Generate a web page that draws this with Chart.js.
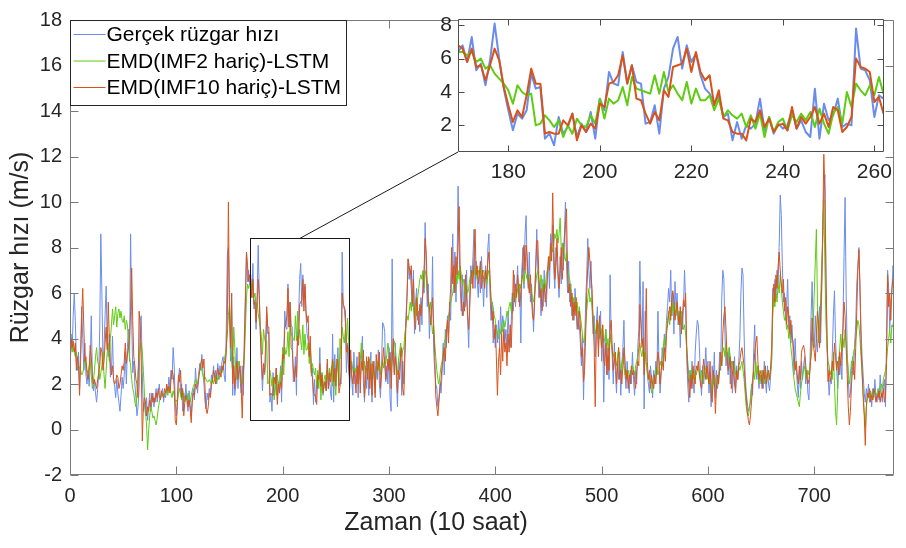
<!DOCTYPE html>
<html>
<head>
<meta charset="utf-8">
<script src="https://cdn.jsdelivr.net/npm/chart.js@4.4.0/dist/chart.umd.min.js"></script>
<style>
  html, body { margin: 0; padding: 0; background: #fff; }
  #wrap { position: relative; width: 906px; height: 548px; }
  #mainChart { position: absolute; left: 0; top: 0; }
  #insetChart { position: absolute; left: 420px; top: 0; }
</style>
</head>
<body>
<div id="wrap">
  <canvas id="mainChart" width="906" height="548"></canvas>
  <canvas id="insetChart" width="480" height="200"></canvas>
</div>
<script>
//////////////////////* Data *////////////////////////////
let seriesNames = ["Gerçek rüzgar hızı", "EMD(IMF2 hariç)-LSTM", "EMD(IMF10 hariç)-LSTM"];

// one value per time step (10 h), x = 0 .. 775
let realSpeed = [
  3.3, 4.2, 3.5, 5.0, 6.0, 4.8, 3.0, 2.6, 3.4, 1.8,
  3.5, 5.4, 4.0, 2.6, 3.8, 2.4, 2.0, 2.6, 1.9, 2.8,
  5.0, 2.5, 1.7, 2.1, 1.6, 1.2, 1.8, 2.4, 4.5, 8.6,
  6.0, 3.0, 3.6, 5.0, 6.3, 3.8, 3.2, 4.2, 2.3, 2.6,
  4.1, 2.2, 1.9, 1.4, 2.2, 1.6, 1.2, 0.8, 1.5, 2.3,
  1.8, 2.4, 3.4, 2.0, 3.6, 4.4, 3.0, 8.6, 5.0, 2.5,
  3.0, 2.0, 1.4, 0.6, 1.0, 1.8, 4.8, 5.0, 2.5, 0.8,
  1.2, 0.6, 1.4, 0.4, 1.0, 1.6, 0.8, 1.2, 1.6, 1.0,
  1.4, 1.8, 1.2, 1.6, 2.0, 1.3, 1.5, 1.8, 1.2, 1.6,
  1.4, 1.9, 1.6, 2.3, 1.8, 2.6, 2.2, 3.6, 2.8, 1.2,
  0.6, 1.4, 2.2, 2.7, 1.5, 2.0, 0.8, 1.6, 1.3, 2.0,
  1.2, 0.8, 1.7, 1.1, 0.6, 1.4, 1.8, 1.3, 2.7, 2.0,
  1.6, 2.4, 2.9, 2.6, 3.3, 2.5, 2.0, 1.2, 0.9, 1.6,
  1.3, 1.8, 1.5, 2.4, 2.1, 2.8, 2.2, 2.6, 2.0, 2.9,
  2.2, 2.8, 2.5, 3.0, 3.2, 2.4, 2.1, 4.4, 7.7, 8.0,
  5.5, 3.0, 6.0, 1.5, 3.2, 1.5, 2.0, 3.6, 1.8, 3.0,
  2.2, 1.6, 2.8, 1.5, 4.2, 6.0, 7.8, 6.5, 7.0, 6.4,
  6.8, 5.8, 7.3, 5.3, 5.7, 4.4, 5.9, 8.1, 6.0, 4.2,
  2.9, 1.7, 2.7, 2.4, 2.9, 5.1, 4.2, 4.3, 1.2, 1.5,
  0.8, 2.5, 1.5, 1.9, 2.7, 1.3, 2.1, 1.6, 2.8, 1.2,
  3.6, 2.9, 5.2, 4.5, 4.4, 6.4, 4.5, 5.6, 4.6, 4.5,
  2.1, 2.2, 3.2, 1.5, 4.2, 4.9, 6.6, 7.3, 5.4, 6.8,
  5.8, 6.3, 5.0, 4.2, 3.9, 3.3, 3.8, 2.5, 2.7, 1.1,
  2.2, 1.2, 2.0, 1.8, 2.1, 3.6, 1.7, 2.5, 1.5, 2.1,
  1.8, 2.0, 2.9, 1.8, 2.3, 1.6, 1.3, 4.2, 1.2, 3.3,
  2.3, 2.6, 3.6, 1.9, 2.1, 2.0, 7.8, 5.4, 5.3, 4.7,
  2.5, 3.8, 3.6, 1.8, 3.0, 2.2, 1.5, 3.4, 2.0, 2.6,
  3.2, 1.4, 2.8, 2.2, 3.0, 4.1, 2.0, 1.2, 2.8, 1.8,
  3.0, 1.5, 2.6, 3.4, 1.2, 2.4, 3.0, 1.6, 2.8, 2.2,
  3.5, 2.0, 1.4, 2.6, 4.7, 4.6, 4.3, 2.1, 2.8, 2.0,
  3.6, 1.4, 0.8, 7.5, 3.2, 2.5, 3.8, 2.2, 1.0, 3.0,
  2.6, 3.6, 1.5, 3.0, 2.0, 3.8, 5.0, 6.0, 7.5, 6.6,
  7.0, 6.2, 5.4, 7.0, 4.2, 5.6, 6.2, 4.8, 5.2, 4.3,
  5.8, 4.6, 6.8, 6.0, 9.1, 7.2, 5.4, 6.4, 4.0, 5.0,
  4.6, 7.6, 3.6, 2.6, 2.0, 1.8, 1.0, 1.4, 2.0, 1.6,
  2.6, 3.8, 2.4, 4.4, 3.6, 5.0, 4.2, 5.6, 4.8, 7.0,
  8.6, 6.0, 7.8, 5.6, 7.0, 10.7, 8.0, 6.2, 5.2, 6.8,
  5.0, 6.6, 5.4, 7.0, 4.8, 3.6, 6.0, 7.2, 6.4, 7.6,
  8.8, 6.2, 7.4, 6.6, 5.8, 7.0, 6.0, 7.6, 6.6, 5.4,
  6.8, 7.2, 5.8, 8.0, 8.6, 6.0, 4.8, 5.6, 3.8, 4.4,
  3.6, 4.6, 3.8, 4.8, 3.6, 5.4, 4.2, 5.0, 4.6, 3.8,
  4.4, 3.4, 5.2, 4.0, 3.6, 4.8, 6.0, 5.2, 6.8, 5.4,
  6.2, 7.2, 5.6, 6.4, 3.8, 7.0, 8.0, 6.2, 8.6, 9.4,
  7.0, 6.2, 7.8, 5.6, 6.4, 5.4, 4.3, 6.0, 7.2, 8.8,
  7.0, 5.8, 6.4, 5.0, 6.6, 5.4, 7.0, 6.0, 5.4, 6.6,
  7.4, 6.2, 8.6, 7.8, 9.0, 7.0, 6.2, 8.0, 7.4, 6.6,
  5.8, 7.6, 6.4, 8.2, 7.0, 8.6, 10.0, 7.2, 6.0, 7.4,
  5.6, 6.4, 5.0, 5.8, 4.8, 6.2, 5.4, 4.4, 5.2, 4.6,
  3.8, 2.8, 4.2, 1.3, 3.6, 5.6, 6.8, 8.4, 7.0, 6.2,
  7.4, 5.4, 4.2, 5.0, 3.2, 4.6, 5.4, 3.6, 4.4, 5.2,
  3.0, 4.2, 1.2, 3.6, 4.4, 2.4, 3.2, 2.2, 6.8, 4.0,
  3.2, 2.0, 3.8, 2.6, 1.6, 3.0, 2.2, 3.4, 1.5, 2.8,
  3.6, 4.8, 2.4, 1.8, 3.0, 2.2, 1.6, 2.6, 2.0, 3.4,
  2.2, 1.5, 2.6, 2.0, 3.6, 4.4, 7.4, 5.0, 3.8, 6.5,
  0.9, 5.2, 3.0, 2.4, 2.0, 1.6, 2.8, 2.2, 1.4, 2.6,
  2.0, 3.0, 2.4, 5.2, 2.8, 1.6, 2.4, 3.6, 3.0, 4.2,
  3.4, 4.8, 5.4, 6.2, 5.6, 7.0, 5.0, 6.0, 4.2, 6.5,
  5.4, 6.0, 4.6, 5.2, 3.6, 5.0, 4.4, 5.4, 7.0, 5.6,
  3.2, 2.0, 1.2, 2.6, 1.8, 3.0, 2.2, 1.6, 3.4, 4.2,
  4.8, 4.6, 3.6, 2.2, 1.5, 2.8, 2.0, 2.6, 3.6, 2.4,
  3.0, 1.6, 2.4, 1.0, 2.8, 2.0, 3.4, 1.4, 2.6, 1.8,
  2.2, 3.4, 2.6, 5.8, 7.0, 6.6, 4.2, 2.8, 3.4, 2.4,
  3.6, 2.0, 3.0, 1.6, 2.4, 3.2, 1.8, 2.8, 2.2, 3.0,
  4.0, 6.0, 7.1, 6.8, 4.2, 2.4, 1.6, 1.2, 0.8, 1.0,
  1.2, 2.0, 1.5, 3.4, 4.6, 2.6, 2.2, 2.8, 1.8, 2.4,
  2.0, 2.6, 1.8, 3.0, 2.2, 1.6, 2.8, 2.0, 1.7, 2.4,
  3.0, 6.2, 5.4, 6.6, 5.8, 7.0, 6.4, 8.0, 10.3, 9.4,
  7.2, 5.6, 6.0, 4.8, 5.4, 6.6, 4.4, 5.0, 3.8, 4.6,
  3.6, 2.4, 4.0, 2.8, 2.0, 1.4, 2.6, 1.8, 3.0, 2.2,
  2.8, 3.2, 2.0, 2.6, 1.6, 1.3, 3.0, 5.0, 6.5, 4.2,
  3.6, 5.0, 4.0, 3.4, 4.6, 5.4, 3.8, 6.0, 8.5, 10.4,
  11.2, 7.0, 3.6, 2.4, 1.5, 2.2, 2.0, 3.4, 5.0, 6.1,
  4.0, 2.8, 1.8, 3.2, 2.4, 3.0, 2.2, 4.6, 7.6, 10.2,
  6.0, 3.4, 2.2, 1.4, 1.6, 2.6, 3.2, 2.4, 3.8, 4.6,
  6.4, 7.2, 8.0, 6.0, 4.4, 3.2, 2.4, 1.6, 1.2, 1.8,
  1.4, 2.0, 1.2, 1.6, 1.0, 1.8, 1.4, 2.2, 1.5, 1.2,
  1.8, 1.3, 2.4, 1.6, 1.2, 1.9, 2.2, 1.0, 4.0, 7.0,
  6.2, 4.4, 5.6, 6.0, 7.2, 6.8
];

let emdImf2 = [
  3.9, 3.8, 3.4, 3.6, 3.4, 3.2, 3.4, 3.0, 2.8, 2.7,
  2.6, 2.4, 2.5, 2.7, 3.1, 2.9, 2.6, 2.5, 2.8, 3.0,
  2.4, 1.8, 2.1, 2.6, 3.2, 3.6, 3.0, 2.8, 2.2, 2.5,
  2.8, 3.4, 2.4, 1.8, 2.6, 3.4, 3.8, 3.0, 4.0, 4.6,
  5.3, 4.6, 5.0, 5.4, 4.5, 5.1, 5.3, 4.9, 5.2, 4.8,
  4.7, 5.0, 4.4, 4.8, 4.6, 3.9, 3.2, 2.8, 2.2, 1.8,
  1.6, 1.2, 1.0, 1.6, 2.6, 3.2, 3.6, 3.8, 3.4, 2.6,
  1.6, 0.8, 0.2, -0.9, 0.0, 0.6, 1.0, 0.8, 0.5, 0.6,
  0.4, 0.2, 0.5, 0.9, 1.2, 1.4, 1.5, 1.6, 1.4, 1.5,
  1.6, 1.7, 1.5, 1.8, 1.9, 1.6, 1.4, 1.7, 1.5, 1.2,
  1.3, 1.2, 1.6, 1.8, 1.5, 1.3, 1.7, 1.4, 1.2, 1.5,
  1.3, 1.6, 1.4, 1.2, 1.5, 1.7, 1.9, 2.0, 2.2, 2.1,
  2.0, 2.4, 2.6, 2.8, 2.6, 2.4, 2.2, 2.3, 2.2, 2.1,
  2.1, 2.2, 2.1, 2.0, 2.3, 2.0, 2.2, 2.4, 2.1, 2.3,
  2.2, 2.4, 2.6, 2.5, 2.8, 3.0, 3.3, 3.6, 4.2, 5.0,
  5.5, 4.2, 3.0, 2.5, 4.5, 3.6, 2.4, 2.2, 2.8, 3.0,
  2.6, 2.2, 2.0, 2.4, 3.2, 4.4, 5.8, 6.4, 6.2, 6.4,
  6.4, 6.2, 6.4, 5.8, 6.0, 5.4, 5.6, 5.1, 4.8, 4.5,
  4.1, 3.3, 4.4, 4.0, 3.8, 3.9, 2.0, 2.1, 2.6, 2.3,
  1.9, 2.3, 1.3, 2.0, 1.5, 2.4, 2.0, 1.9, 2.6, 2.1,
  3.6, 2.4, 3.6, 3.3, 3.5, 4.3, 3.2, 4.9, 4.2, 4.1,
  4.0, 3.9, 5.0, 3.9, 5.2, 4.0, 4.4, 3.9, 3.5, 4.6,
  3.3, 4.2, 3.5, 3.5, 3.8, 2.9, 3.6, 2.5, 2.9, 2.6,
  2.4, 2.7, 1.9, 2.6, 1.8, 2.7, 1.3, 2.5, 1.6, 2.2,
  2.4, 1.7, 2.6, 2.2, 2.7, 2.3, 2.8, 1.9, 3.0, 2.1,
  1.5, 2.7, 3.1, 2.1, 4.0, 3.1, 4.5, 4.1, 3.8, 4.4,
  3.8, 4.9, 3.9, 3.2, 2.8, 3.0, 2.6, 2.4, 2.7, 2.5,
  2.6, 2.8, 2.5, 3.0, 3.8, 2.9, 2.6, 3.0, 2.4, 2.7,
  2.5, 2.8, 3.1, 2.2, 2.6, 2.9, 2.3, 2.0, 2.6, 3.0,
  2.6, 2.9, 2.4, 2.8, 3.0, 2.7, 3.2, 2.9, 3.3, 3.8,
  3.5, 3.2, 2.6, 3.0, 3.4, 3.9, 3.6, 2.8, 2.4, 3.1,
  3.4, 3.8, 3.2, 3.5, 3.6, 4.2, 4.6, 5.0, 4.8, 5.2,
  5.6, 5.2, 6.0, 5.4, 4.8, 5.5, 5.0, 5.8, 6.2, 6.6,
  6.8, 6.6, 7.0, 6.2, 6.8, 7.0, 6.4, 5.8, 5.2, 5.6,
  4.8, 4.2, 4.6, 3.8, 3.2, 2.6, 2.2, 2.0, 2.4, 2.8,
  3.0, 3.4, 3.8, 4.0, 4.4, 4.6, 5.0, 5.2, 5.6, 5.8,
  6.0, 6.4, 6.2, 6.8, 6.4, 7.0, 6.6, 7.2, 6.8, 6.4,
  6.6, 6.2, 5.8, 6.4, 6.0, 6.2, 6.6, 6.8, 7.0, 6.8,
  7.2, 6.8, 7.0, 6.6, 7.0, 6.8, 7.2, 6.6, 6.9, 7.0,
  6.8, 6.6, 6.4, 6.8, 7.0, 6.4, 5.8, 5.6, 5.4, 5.0,
  4.8, 4.4, 4.2, 4.0, 4.4, 4.2, 4.6, 4.3, 4.8, 4.5,
  4.8, 5.2, 5.0, 5.4, 5.6, 5.2, 5.8, 6.0, 5.6, 5.8,
  6.0, 6.2, 5.8, 6.4, 6.2, 6.6, 6.8, 6.4, 7.0, 6.8,
  6.6, 6.8, 6.4, 6.2, 6.0, 5.8, 5.6, 6.0, 6.4, 6.8,
  7.0, 6.6, 6.2, 6.8, 6.4, 6.0, 6.6, 6.2, 6.8, 7.0,
  7.2, 7.6, 7.4, 8.0, 7.8, 8.2, 8.6, 8.4, 8.8, 8.2,
  8.6, 9.3, 8.0, 7.8, 8.2, 7.6, 7.4, 7.8, 7.2, 6.8,
  6.6, 6.2, 6.0, 5.6, 5.8, 5.4, 5.2, 5.6, 5.0, 5.4,
  5.0, 4.6, 4.2, 3.8, 4.0, 4.6, 5.2, 5.8, 6.2, 5.6,
  5.8, 5.4, 5.0, 4.6, 4.2, 4.4, 4.8, 4.6, 4.0, 4.4,
  4.2, 4.6, 3.8, 4.0, 4.4, 3.6, 4.0, 3.4, 4.2, 3.8,
  3.6, 3.2, 3.4, 3.0, 2.8, 3.2, 3.6, 3.0, 2.6, 2.9,
  3.2, 2.8, 2.4, 2.6, 2.2, 2.6, 2.4, 2.2, 2.6, 2.8,
  2.6, 2.4, 2.8, 3.0, 3.2, 3.6, 3.8, 3.4, 3.2, 3.6,
  3.0, 3.4, 2.8, 2.6, 2.2, 2.4, 2.0, 1.6, 1.8, 2.2,
  2.4, 2.6, 2.8, 2.4, 2.6, 3.0, 2.8, 3.2, 3.6, 4.0,
  3.6, 4.4, 4.8, 5.2, 4.6, 5.4, 5.0, 5.6, 5.2, 5.4,
  5.0, 5.4, 4.8, 5.0, 4.6, 5.2, 4.8, 4.4, 4.6, 4.2,
  3.6, 3.0, 2.4, 2.2, 2.6, 2.0, 2.4, 2.2, 2.6, 2.4,
  2.6, 2.8, 2.4, 2.2, 2.6, 2.0, 2.4, 2.8, 2.6, 2.2,
  2.4, 2.0, 2.2, 1.8, 1.6, 2.0, 2.4, 2.2, 1.8, 2.2,
  2.4, 2.6, 3.0, 2.8, 3.4, 3.6, 3.2, 3.8, 3.4, 3.0,
  3.6, 3.2, 2.8, 3.0, 2.6, 2.8, 2.4, 2.6, 2.2, 2.8,
  2.6, 2.8, 3.0, 2.6, 2.2, 1.6, 1.0, 0.7, 0.6, 0.9,
  1.4, 1.8, 2.2, 2.6, 2.2, 3.0, 2.4, 2.8, 2.0, 2.4,
  2.2, 2.6, 2.4, 2.0, 2.4, 2.2, 2.6, 2.4, 2.2, 2.6,
  3.2, 5.0, 5.8, 5.4, 6.0, 5.6, 6.4, 6.0, 6.8, 6.2,
  5.6, 5.2, 4.8, 5.0, 4.4, 4.6, 4.0, 4.2, 3.6, 3.2,
  2.6, 2.2, 1.8, 1.6, 1.4, 1.2, 1.0, 1.6, 2.0, 2.4,
  2.6, 2.8, 2.4, 2.2, 2.6, 2.4, 2.8, 3.2, 3.6, 4.6,
  6.0, 7.4, 8.8, 5.6, 3.8, 4.6, 5.6, 7.2, 8.4, 10.1,
  7.2, 4.7, 3.6, 3.0, 2.8, 2.4, 2.6, 2.2, 3.4, 2.0,
  0.8, 0.2, 1.6, 3.0, 3.6, 4.2, 3.4, 4.0, 3.6, 4.4,
  3.8, 3.2, 2.6, 2.0, 2.4, 3.0, 2.8, 3.4, 3.6, 4.0,
  4.4, 4.8, 4.6, 4.0, 3.2, 2.4, 1.6, 0.8, 0.1, 1.0,
  1.4, 1.6, 1.4, 1.7, 1.5, 1.3, 1.6, 1.8, 1.5, 1.6,
  1.5, 1.8, 1.6, 2.0, 1.8, 2.2, 2.4, 2.6, 3.0, 3.6,
  4.0, 4.4, 3.8, 4.6, 4.5, 5.0
];

let emdImf10 = [
  2.4, 4.0, 3.6, 3.9, 3.4, 3.8, 2.6, 3.2, 2.8, 1.5,
  3.0, 5.0, 6.2, 4.5, 3.0, 3.2, 2.4, 2.2, 2.6, 3.7,
  3.2, 2.4, 2.0, 2.2, 2.0, 1.8, 2.2, 2.5, 2.8, 3.6,
  3.4, 2.6, 3.0, 3.8, 4.5, 3.5, 5.6, 4.0, 2.8, 2.4,
  2.8, 2.2, 2.0, 2.1, 2.4, 2.3, 1.8, 2.0, 2.4, 2.8,
  2.6, 3.0, 3.8, 2.9, 3.3, 3.6, 4.0, 5.2, 7.1, 4.8,
  3.2, 2.8, 2.2, 2.0, 1.4, 5.2, 4.6, 3.0, -0.5, 1.0,
  1.4, 1.2, 0.6, 1.0, 0.8, 1.3, 1.0, 1.6, 1.2, 1.4,
  1.2, 1.6, 1.4, 1.8, 1.5, 1.3, 1.7, 1.5, 1.4, 1.8,
  1.6, 2.0, 1.7, 1.9, 1.6, 2.2, 2.6, 2.4, 1.9, 0.4,
  0.2, 1.0, 2.4, 2.1, 2.6, 1.4, 1.8, 0.6, 1.2, 1.5,
  1.4, 1.0, 1.3, 0.9, 0.3, 1.2, 1.6, 1.5, 2.0, 1.8,
  1.9, 2.2, 2.6, 2.9, 3.1, 2.7, 3.1, 1.8, 0.9, 0.7,
  1.0, 1.6, 1.4, 1.9, 2.2, 2.6, 2.4, 2.0, 2.5, 2.7,
  2.4, 2.5, 2.3, 2.8, 2.6, 3.0, 2.9, 3.4, 5.0, 10.0,
  5.0, 3.6, 6.0, 2.0, 2.8, 1.8, 2.4, 3.0, 2.2, 2.6,
  2.8, 1.8, 0.5, 2.4, 3.6, 5.6, 7.8, 7.2, 6.5, 6.8,
  6.6, 5.8, 6.6, 5.5, 5.6, 4.7, 5.6, 6.6, 5.9, 4.3,
  3.2, 2.2, 2.9, 2.5, 3.8, 5.4, 4.5, 4.5, 1.5, 1.6,
  1.5, 1.5, 2.3, 2.0, 2.7, 1.1, 2.0, 1.6, 2.1, 1.8,
  3.3, 3.1, 4.5, 4.6, 5.0, 6.2, 4.5, 5.6, 3.6, 3.5,
  2.7, 2.1, 2.8, 2.3, 4.1, 3.7, 5.5, 5.6, 5.7, 6.6,
  5.2, 6.4, 5.2, 4.7, 5.0, 3.2, 4.1, 2.4, 2.3, 1.6,
  1.5, 1.5, 1.1, 2.4, 2.2, 2.9, 1.9, 2.4, 1.6, 2.0,
  2.1, 1.7, 3.1, 1.8, 2.5, 2.1, 2.5, 3.1, 2.1, 2.7,
  1.9, 3.1, 2.9, 1.6, 1.9, 2.5, 6.0, 5.5, 5.4, 5.2,
  3.4, 3.7, 2.7, 2.2, 3.5, 2.4, 2.0, 2.6, 2.3, 1.6,
  2.8, 2.0, 3.4, 1.6, 3.0, 2.6, 3.5, 1.4, 2.2, 3.2,
  2.2, 3.2, 1.8, 2.9, 1.5, 3.0, 2.4, 1.4, 3.3, 2.6,
  2.8, 3.4, 1.8, 2.4, 3.0, 3.6, 2.8, 2.2, 2.5, 3.1,
  2.6, 3.4, 1.8, 3.0, 4.0, 2.4, 3.2, 2.8, 1.6, 2.6,
  2.2, 3.4, 3.6, 1.8, 1.5, 3.2, 4.6, 5.8, 7.5, 7.2,
  6.8, 7.2, 5.5, 6.6, 5.0, 4.4, 5.8, 5.2, 4.6, 5.5,
  5.0, 5.6, 6.0, 7.0, 8.4, 7.8, 6.2, 5.6, 5.4, 4.6,
  5.2, 5.8, 4.6, 3.4, 1.5, 1.0, 0.6, 1.2, 1.8, 2.2,
  2.8, 3.2, 3.6, 3.0, 4.2, 4.8, 3.8, 5.4, 6.2, 8.0,
  6.4, 7.2, 6.0, 7.6, 6.8, 8.2, 9.8, 7.0, 5.8, 5.0,
  5.6, 5.2, 6.8, 5.8, 5.0, 4.4, 5.4, 6.6, 7.0, 6.2,
  7.6, 8.8, 6.8, 7.2, 6.4, 6.8, 7.4, 6.2, 7.0, 6.6,
  6.2, 7.0, 6.6, 7.4, 7.8, 6.8, 5.6, 4.8, 5.2, 4.0,
  4.6, 3.2, 1.5, 3.0, 3.6, 2.4, 4.2, 3.0, 4.4, 3.4,
  3.8, 2.8, 4.2, 3.4, 4.6, 3.6, 5.0, 7.0, 5.6, 6.4,
  5.8, 6.8, 6.2, 5.4, 6.0, 6.6, 7.4, 8.1, 7.0, 8.1,
  7.6, 6.4, 6.0, 6.8, 5.8, 5.0, 4.8, 5.6, 7.0, 8.3,
  8.3, 6.6, 5.8, 6.2, 5.2, 5.8, 6.4, 5.6, 6.0, 6.8,
  7.6, 7.0, 8.2, 7.4, 10.4, 8.0, 6.6, 7.2, 8.4, 7.0,
  6.2, 7.0, 8.0, 6.6, 7.6, 8.4, 9.0, 9.7, 6.8, 6.0,
  6.4, 5.4, 6.0, 4.8, 5.6, 5.0, 5.8, 4.6, 4.4, 5.2,
  4.6, 3.2, 3.6, 2.1, 2.6, 4.2, 6.0, 7.2, 8.0, 7.4,
  6.8, 6.2, 4.8, 3.6, 1.0, 4.2, 4.8, 3.2, 5.0, 4.2,
  3.6, 4.6, 3.0, 2.8, 3.8, 2.4, 3.6, 2.6, 4.4, 4.8,
  3.6, 2.6, 3.0, 3.4, 2.0, 2.8, 3.6, 2.2, 2.6, 2.0,
  2.8, 3.6, 3.0, 2.2, 2.6, 1.8, 2.4, 2.0, 2.8, 2.4,
  2.6, 2.2, 1.8, 2.6, 3.0, 2.8, 5.5, 4.6, 3.6, 4.0,
  2.4, 3.6, 6.2, 3.0, 2.2, 2.6, 1.8, 2.4, 2.0, 1.8,
  2.4, 2.0, 2.8, 3.4, 3.0, 2.0, 2.6, 3.0, 2.6, 3.6,
  3.0, 4.2, 4.6, 5.0, 5.4, 4.8, 5.8, 6.1, 5.6, 4.8,
  5.2, 5.6, 5.0, 4.6, 5.4, 4.2, 5.0, 5.7, 5.4, 6.0,
  3.8, 2.6, 2.0, 1.4, 2.4, 1.8, 2.8, 2.2, 2.0, 2.8,
  2.6, 3.0, 2.4, 2.0, 1.8, 2.4, 3.1, 2.6, 2.2, 2.8,
  2.4, 2.0, 3.0, 1.6, 1.2, 2.6, 2.2, 0.7, 1.8, 2.4,
  2.0, 2.6, 3.4, 2.8, 4.2, 5.0, 5.4, 4.4, 3.2, 2.6,
  2.8, 3.2, 1.8, 2.4, 3.0, 2.0, 1.6, 2.6, 2.2, 2.8,
  3.0, 3.4, 3.6, 3.2, 2.8, 2.0, 1.4, 0.8, 0.4, 0.2,
  0.6, 1.2, 2.0, 2.6, 3.4, 3.8, 4.1, 3.0, 2.2, 2.6,
  2.4, 1.8, 2.6, 2.2, 2.8, 2.0, 2.4, 2.6, 2.2, 2.8,
  3.6, 5.8, 6.4, 5.6, 6.8, 6.2, 7.2, 7.8, 7.0, 6.4,
  6.0, 6.6, 5.2, 5.8, 4.6, 5.4, 5.0, 4.2, 4.8, 4.0,
  3.9, 3.2, 2.6, 3.0, 2.4, 2.0, 2.8, 2.2, 3.4, 3.6,
  3.7, 3.4, 2.8, 2.4, 2.0, 2.2, 2.6, 3.4, 4.9, 3.8,
  3.4, 3.0, 4.2, 5.2, 4.6, 3.6, 5.0, 6.4, 9.0, 12.1,
  10.5, 6.6, 4.2, 2.1, 2.6, 2.1, 2.4, 3.0, 2.6, 3.8,
  3.2, 2.6, 3.0, 2.4, 3.4, 2.8, 3.6, 4.4, 5.6, 5.0,
  3.6, 2.4, 1.0, 0.2, 0.8, 2.0, 2.6, 3.0, 2.2, 3.6,
  5.2, 7.0, 7.9, 6.4, 3.7, 2.6, 1.4, 0.6, -0.7, 1.0,
  1.6, 1.4, 1.8, 1.2, 1.5, 1.3, 1.8, 1.6, 1.2, 1.5,
  1.4, 1.7, 1.2, 1.6, 1.4, 1.8, 1.2, 1.5, 3.0, 6.8,
  5.4, 6.0, 4.8, 6.2, 6.6, 6.4
];

let xTicks = [0, 100, 200, 300, 400, 500, 600, 700];
let yTicks = [-2, 0, 2, 4, 6, 8, 10, 12, 14, 16, 18];
let insetXTicks = [180, 200, 220, 240, 260];
let insetYTicks = [2, 4, 6, 8];
let insetRangeX = [169, 262];
let insetRangeY = [0.4, 8.4];

//////////////////////* Styles *////////////////////////////
let blueColor = "#6a8ded";
let greenColor = "#5dcc12";
let orangeColor = "#d95319";
let textColor = "#262626";
let primaryFont = "'Liberation Sans', Arial, sans-serif";

Chart.defaults.font.family = primaryFont;
Chart.defaults.color = textColor;

function toPoints(values) {
    return values.map((v, i) => ({ x: i, y: v }));
}

function makeSet(label, values, color, width, order) {
    return {
        label: label,
        data: toPoints(values),
        borderColor: color,
        backgroundColor: color,
        borderWidth: width,
        pointRadius: 0,
        tension: 0,
        borderJoinStyle: "round",
        order: order,
        clip: 0,
    };
}

// box around plot area with inward ticks on all sides
const framePlugin = {
    id: "frame",
    afterDatasetsDraw(chart, args, opts) {
        const { ctx, chartArea: a, scales: { x, y } } = chart;
        const l = Math.round(a.left) + 0.5, r = Math.round(a.right) - 0.5;
        const t = Math.round(a.top) + 0.5, b = Math.round(a.bottom) - 0.5;
        ctx.save();
        ctx.strokeStyle = opts.color;
        ctx.lineWidth = 1;
        ctx.beginPath();
        ctx.moveTo(l, t); ctx.lineTo(r, t); ctx.lineTo(r, b); ctx.lineTo(l, b); ctx.closePath();
        x.ticks.forEach(tk => {
            const px = Math.round(x.getPixelForValue(tk.value)) + 0.5;
            ctx.moveTo(px, b); ctx.lineTo(px, b - opts.len);
            ctx.moveTo(px, t); ctx.lineTo(px, t + opts.len);
        });
        y.ticks.forEach(tk => {
            const py = Math.round(y.getPixelForValue(tk.value)) + 0.5;
            ctx.moveTo(l, py); ctx.lineTo(l + opts.len, py);
            ctx.moveTo(r, py); ctx.lineTo(r - opts.len, py);
        });
        ctx.stroke();
        ctx.restore();
    }
};

// zoom rectangle and the connector to the inset
const zoomBoxPlugin = {
    id: "zoomBox",
    afterDatasetsDraw(chart, args, opts) {
        const { ctx, scales: { x, y } } = chart;
        const x0 = Math.round(x.getPixelForValue(insetRangeX[0])) + 0.5;
        const x1 = Math.round(x.getPixelForValue(insetRangeX[1])) + 0.5;
        const y0 = Math.round(y.getPixelForValue(insetRangeY[1])) + 0.5;
        const y1 = Math.round(y.getPixelForValue(insetRangeY[0])) + 0.5;
        ctx.save();
        ctx.strokeStyle = "#1a1a1a";
        ctx.lineWidth = 1;
        ctx.strokeRect(x0, y0, x1 - x0, y1 - y0);
        ctx.beginPath();
        ctx.moveTo(x.getPixelForValue(opts.anchorX), y0);
        ctx.lineTo(opts.toX, opts.toY);
        ctx.stroke();
        ctx.restore();
    }
};

// MATLAB style legend in the top left corner
const boxLegendPlugin = {
    id: "boxLegend",
    afterDraw(chart) {
        const { ctx, chartArea: a } = chart;
        const left = Math.round(a.left) + 0.5, top = Math.round(a.top) + 0.5;
        const w = 276, h = 85;
        ctx.save();
        ctx.fillStyle = "#fff";
        ctx.fillRect(left, top, w, h);
        ctx.strokeStyle = "#262626";
        ctx.lineWidth = 1;
        ctx.strokeRect(left, top, w, h);
        ctx.font = "21px " + primaryFont;
        ctx.textBaseline = "middle";
        ctx.fillStyle = "#000";
        chart.data.datasets.forEach((ds, i) => {
            const cy = top + 14 + i * 26.5;
            ctx.strokeStyle = ds.borderColor;
            ctx.beginPath();
            ctx.moveTo(left + 3, cy);
            ctx.lineTo(left + 35, cy);
            ctx.stroke();
            ctx.fillText(ds.label, left + 36, cy + 1);
        });
        ctx.restore();
    }
};

// x axis label, placed where the reference shows it
const xLabelPlugin = {
    id: "xLabel",
    afterDraw(chart, args, opts) {
        const { ctx } = chart;
        ctx.save();
        ctx.font = opts.size + "px " + primaryFont;
        ctx.fillStyle = textColor;
        ctx.textAlign = "center";
        ctx.textBaseline = "middle";
        ctx.fillText(opts.text, opts.cx, opts.cy);
        ctx.restore();
    }
};

const whiteAreaPlugin = {
    id: "whiteArea",
    beforeDraw(chart) {
        const { ctx, chartArea: a } = chart;
        ctx.save();
        ctx.fillStyle = "#fff";
        ctx.fillRect(a.left, a.top, a.right - a.left, a.bottom - a.top);
        ctx.restore();
    }
};

//////////////////////* Main chart *////////////////////////////
function mainChart() {
    let ctx = document.getElementById("mainChart");
    let config = {
        type: "line",
        data: {
            datasets: [
                makeSet(seriesNames[0], realSpeed, blueColor, 1, 3),
                makeSet(seriesNames[1], emdImf2, greenColor, 1, 2),
                makeSet(seriesNames[2], emdImf10, orangeColor, 1, 1),
            ],
        },
        options: {
            responsive: false,
            animation: false,
            events: [],
            layout: { padding: { top: 14, right: 12, left: 0, bottom: 0 } },
            plugins: {
                legend: { display: false },
                tooltip: { enabled: false },
                frame: { color: "#7a7a7a", len: 8 },
                zoomBox: { anchorX: 216, toX: 458, toY: 152 },
                xLabel: { text: "Zaman (10 saat)", size: 25, cx: 436, cy: 523 },
            },
            scales: {
                x: {
                    type: "linear",
                    min: 0,
                    max: 775,
                    grid: { display: false, drawTicks: false },
                    border: { display: false },
                    afterBuildTicks: s => { s.ticks = xTicks.map(v => ({ value: v })); },
                    afterFit: s => { s.height = 73; },
                    ticks: { color: textColor, font: { size: 20 }, padding: 9, maxRotation: 0 },
                },
                y: {
                    type: "linear",
                    min: -2,
                    max: 18,
                    grid: { display: false, drawTicks: false },
                    border: { display: false },
                    afterBuildTicks: s => { s.ticks = yTicks.map(v => ({ value: v })); },
                    afterFit: s => { s.width = 70; },
                    ticks: { color: textColor, font: { size: 20 }, padding: 8 },
                    title: {
                        display: true,
                        text: "Rüzgar hızı (m/s)",
                        color: textColor,
                        font: { size: 25 },
                        padding: { top: 6, bottom: 0 },
                    },
                },
            },
        },
        plugins: [framePlugin, zoomBoxPlugin, boxLegendPlugin, xLabelPlugin],
    };
    return new Chart(ctx, config);
}

//////////////////////* Inset chart *////////////////////////////
function insetChart() {
    let ctx = document.getElementById("insetChart");
    let config = {
        type: "line",
        data: {
            datasets: [
                makeSet(seriesNames[0], realSpeed, blueColor, 2, 3),
                makeSet(seriesNames[1], emdImf2, greenColor, 2, 2),
                makeSet(seriesNames[2], emdImf10, orangeColor, 2, 1),
            ],
        },
        options: {
            responsive: false,
            animation: false,
            events: [],
            layout: { padding: { top: 14, right: 6, left: 0, bottom: 0 } },
            plugins: {
                legend: { display: false },
                tooltip: { enabled: false },
                frame: { color: "#4d4d4d", len: 6 },
            },
            scales: {
                x: {
                    type: "linear",
                    min: insetRangeX[0],
                    max: insetRangeX[1],
                    grid: { display: false, drawTicks: false },
                    border: { display: false },
                    afterBuildTicks: s => { s.ticks = insetXTicks.map(v => ({ value: v })); },
                    afterFit: s => { s.height = 48; },
                    ticks: { color: textColor, font: { size: 21 }, padding: 8, maxRotation: 0 },
                },
                y: {
                    type: "linear",
                    min: insetRangeY[0],
                    max: insetRangeY[1],
                    grid: { display: false, drawTicks: false },
                    border: { display: false },
                    afterBuildTicks: s => { s.ticks = insetYTicks.map(v => ({ value: v })); },
                    afterFit: s => { s.width = 38; },
                    ticks: { color: textColor, font: { size: 21 }, padding: 6 },
                },
            },
        },
        plugins: [whiteAreaPlugin, framePlugin],
    };
    return new Chart(ctx, config);
}

mainChart();
insetChart();
</script>
</body>
</html>
